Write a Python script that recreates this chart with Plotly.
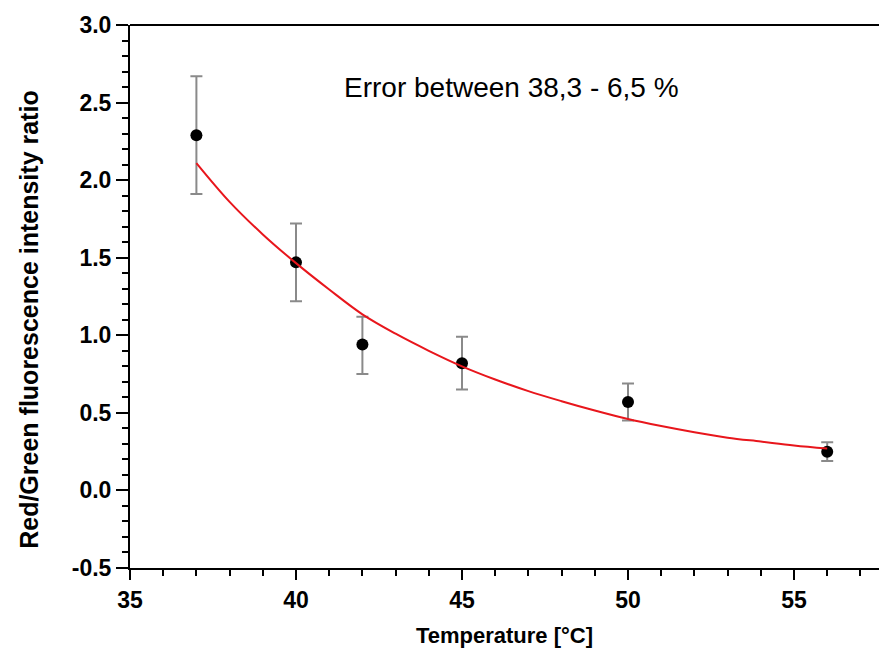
import plotly.graph_objects as go

# Measured data
temps = [37, 40, 42, 45, 50, 56]
ratio = [2.29, 1.47, 0.94, 0.82, 0.57, 0.25]
err_plus = [0.38, 0.25, 0.18, 0.17, 0.12, 0.06]
err_minus = [0.38, 0.25, 0.19, 0.17, 0.12, 0.06]

# Fitted curve
fit_x = [37, 38, 39, 40, 41, 42, 43, 44, 45, 46, 47, 48, 49, 50, 51, 52, 53, 54, 55, 56]
fit_y = [2.11, 1.86, 1.65, 1.465, 1.295, 1.135, 1.01, 0.90, 0.80, 0.715, 0.64, 0.575,
         0.515, 0.46, 0.415, 0.375, 0.34, 0.315, 0.29, 0.27]

x_ticks = [35, 40, 45, 50, 55]
y_ticks = [-0.5, 0.0, 0.5, 1.0, 1.5, 2.0, 2.5, 3.0]
y_tick_text = ["-0.5", "0.0", "0.5", "1.0", "1.5", "2.0", "2.5", "3.0"]

FONT = "Liberation Sans, Arial, sans-serif"

fig = go.Figure()

fig.add_trace(go.Scatter(
    x=temps, y=ratio, mode="markers",
    marker=dict(color="black", size=12),
    error_y=dict(type="data", symmetric=False, array=err_plus, arrayminus=err_minus,
                 color="#8a8a8a", thickness=2, width=6),
    showlegend=False,
))

fig.add_trace(go.Scatter(
    x=fit_x, y=fit_y, mode="lines", line=dict(color="#e8161c", width=2, shape="spline"),
    showlegend=False,
))

fig.update_layout(
    width=879, height=651,
    margin=dict(l=130, r=0, t=25, b=83),
    paper_bgcolor="white", plot_bgcolor="white",
    font=dict(family=FONT, color="black"),
    xaxis=dict(
        range=[35, 57.56], tickmode="array", tickvals=x_ticks,
        ticks="outside", ticklen=10, tickwidth=2, tickcolor="black",
        showline=True, linecolor="black", linewidth=2, showgrid=False, zeroline=False,
        tickfont=dict(size=23, family=FONT, weight="bold"),
        minor=dict(dtick=1, ticks="outside", ticklen=6, tickwidth=2, tickcolor="black", showgrid=False),
        title=dict(text="<b>Temperature [°C]</b>", font=dict(size=22, family=FONT), standoff=16),
    ),
    yaxis=dict(
        range=[-0.5, 3.0], tickmode="array", tickvals=y_ticks, ticktext=y_tick_text,
        ticks="outside", ticklen=12, tickwidth=2, tickcolor="black",
        showline=True, linecolor="black", linewidth=2, showgrid=False, zeroline=False,
        tickfont=dict(size=23, family=FONT, weight="bold"),
        minor=dict(dtick=0.1, ticks="outside", ticklen=6, tickwidth=2, tickcolor="black", showgrid=False),
    ),
    shapes=[dict(type="line", xref="paper", yref="paper", x0=0, x1=1, y0=1, y1=1,
                 line=dict(color="black", width=2))],
    annotations=[
        dict(text="Error between 38,3 - 6,5 %", x=46.48, y=2.60, xref="x", yref="y",
             showarrow=False, font=dict(size=28, family=FONT, color="black")),
        dict(text="<b>Red/Green fluorescence intensity ratio</b>", textangle=-90,
             x=-0.1349, y=0.457, xref="paper", yref="paper", xanchor="center", yanchor="middle",
             showarrow=False, font=dict(size=25, family=FONT, color="black")),
    ],
)

fig.write_html("out.html", config={"displayModeBar": False},
               post_script="document.body.style.margin='0';document.body.style.overflow='hidden';")
